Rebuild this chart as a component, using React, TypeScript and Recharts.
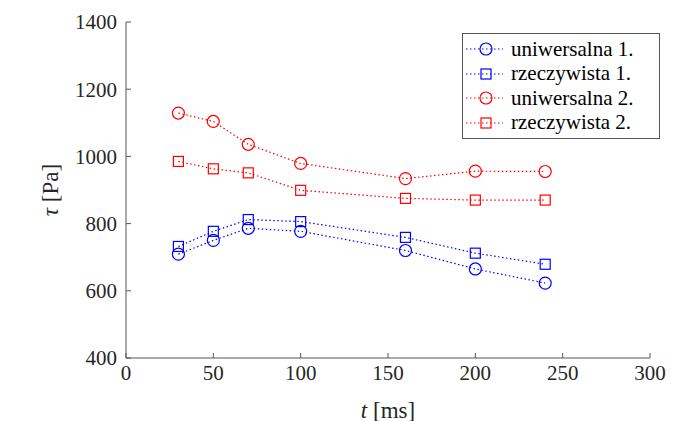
import { LineChart, Line, XAxis, YAxis, Label } from 'recharts';

const times = [30, 50, 70, 100, 160, 200, 240];
const uniwersalna1 = [709, 750, 786, 777, 720, 665, 623];
const rzeczywista1 = [732, 777, 812, 806, 759, 712, 679];
const uniwersalna2 = [1129, 1104, 1036, 979, 934, 956, 955];
const rzeczywista2 = [985, 963, 951, 899, 875, 870, 870];

const xTicks = [0, 50, 100, 150, 200, 250, 300];
const yTicks = [400, 600, 800, 1000, 1200, 1400];

const BLUE = '#0000ff';
const RED = '#ff0000';
const TEXT = '#262626';
const AXIS = '#555555';
const FONT = '"Liberation Serif", serif';
const DASH = '1.5 2.5';

const data = times.map((t, i) => ({
  t,
  u1: uniwersalna1[i],
  r1: rzeczywista1[i],
  u2: uniwersalna2[i],
  r2: rzeczywista2[i],
}));

const series = [
  { key: 'u1', name: 'uniwersalna 1.', color: BLUE, shape: 'circle' },
  { key: 'r1', name: 'rzeczywista 1.', color: BLUE, shape: 'square' },
  { key: 'u2', name: 'uniwersalna 2.', color: RED, shape: 'circle' },
  { key: 'r2', name: 'rzeczywista 2.', color: RED, shape: 'square' },
];

const Marker = ({ cx, cy, color, shape }: any) => {
  if (cx == null || cy == null) return null;
  if (shape === 'square') {
    return <rect x={cx - 5} y={cy - 5} width={10} height={10} fill="none" stroke={color} strokeWidth={1.2} />;
  }
  return <circle cx={cx} cy={cy} r={6} fill="none" stroke={color} strokeWidth={1.2} />;
};

// legend is drawn outside recharts so it doesn't shrink the plot area
const LegendBox = () => (
  <div
    style={{
      position: 'absolute',
      left: 462,
      top: 33,
      border: `1px solid ${AXIS}`,
      background: '#fff',
      width: 196,
      padding: '3px 0',
      fontFamily: FONT,
      fontSize: 21,
      color: '#000',
    }}
  >
    {series.map((s) => (
      <div key={s.key} style={{ display: 'flex', alignItems: 'center', height: 24.5 }}>
        <svg width={46} height={20} style={{ marginLeft: 2 }}>
          <line x1={1} y1={10} x2={38} y2={10} stroke={s.color} strokeWidth={1.2} strokeDasharray={DASH} />
          <Marker cx={21} cy={10} color={s.color} shape={s.shape} />
        </svg>
        <span style={{ lineHeight: 1 }}>{s.name}</span>
      </div>
    ))}
  </div>
);

export default function App() {
  return (
    <div style={{ position: 'absolute', left: 0, top: 0, width: 687, height: 421, background: '#fff' }}>
      <LineChart
        width={687}
        height={421}
        data={data}
        margin={{ top: 22, right: 37, left: 66, bottom: 33 }}
        style={{ fontFamily: FONT }}
      >
        <XAxis
          dataKey="t"
          type="number"
          domain={[0, 300]}
          ticks={xTicks}
          interval={0}
          height={30}
          tickSize={-5}
          tickMargin={12}
          tick={{ fill: TEXT, fontSize: 21 }}
          axisLine={{ stroke: AXIS }}
          tickLine={{ stroke: AXIS }}
        >
          <Label
            content={() => (
              <text x={388} y={410} textAnchor="middle" dominantBaseline="central" fill={TEXT} fontSize={23}>
                <tspan fontStyle="italic">t</tspan>
                <tspan> [ms]</tspan>
              </text>
            )}
          />
        </XAxis>
        <YAxis
          type="number"
          domain={[400, 1400]}
          ticks={yTicks}
          interval={0}
          width={60}
          tickSize={-5}
          tickMargin={14}
          tick={{ fill: TEXT, fontSize: 21 }}
          axisLine={{ stroke: AXIS }}
          tickLine={{ stroke: AXIS }}
        >
          <Label
            content={() => (
              <text
                x={50}
                y={190}
                transform="rotate(-90 50 190)"
                textAnchor="middle"
                dominantBaseline="central"
                fill={TEXT}
                fontSize={23}
              >
                <tspan fontStyle="italic">τ</tspan>
                <tspan> [Pa]</tspan>
              </text>
            )}
          />
        </YAxis>
        {series.map((s) => (
          <Line
            key={s.key}
            dataKey={s.key}
            name={s.name}
            type="linear"
            stroke={s.color}
            strokeWidth={1.2}
            strokeDasharray={DASH}
            dot={(p: any) => <Marker key={`${s.key}-${p.index}`} cx={p.cx} cy={p.cy} color={s.color} shape={s.shape} />}
            activeDot={false}
            isAnimationActive={false}
          />
        ))}
      </LineChart>
      <LegendBox />
    </div>
  );
}
